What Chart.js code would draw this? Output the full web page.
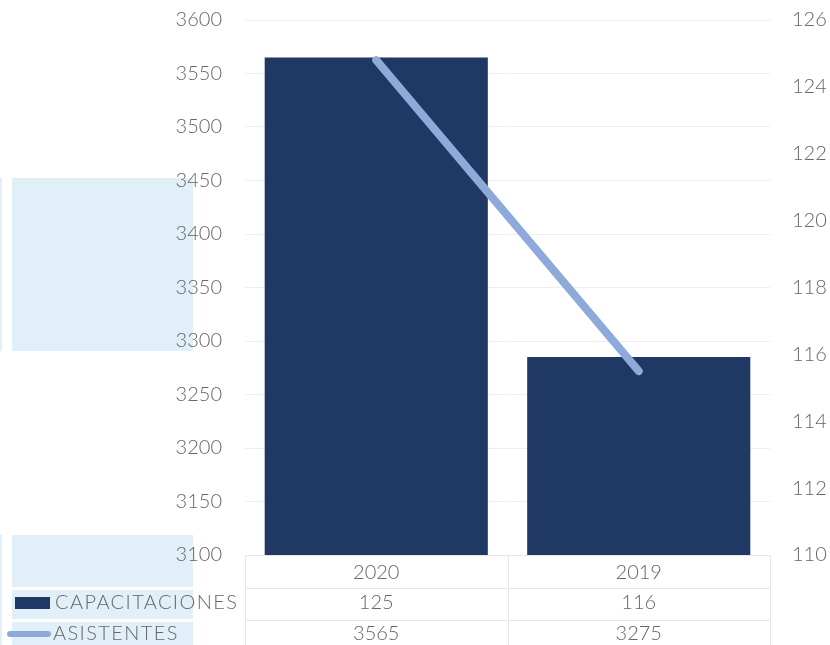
<!DOCTYPE html>
<html>
<head>
<meta charset="utf-8">
<script src="https://cdn.jsdelivr.net/npm/chart.js@4/dist/chart.umd.min.js"></script>
<style>
  html, body { margin: 0; padding: 0; background: #ffffff; overflow: hidden; }
  #wrap { position: relative; width: 830px; height: 645px; overflow: hidden; }
  .panel { position: absolute; background: #e1eff9; }
  canvas { position: absolute; left: 0; top: -15px; }
</style>
</head>
<body>
<div id="wrap">
  <div class="panel" style="left:0;top:178px;width:2px;height:173px;"></div>
  <div class="panel" style="left:12px;top:178px;width:181px;height:173px;"></div>
  <div class="panel" style="left:0;top:535px;width:2px;height:110px;"></div>
  <div class="panel" style="left:12px;top:535px;width:181px;height:52px;"></div>
  <div class="panel" style="left:12px;top:590px;width:181px;height:29px;"></div>
  <div class="panel" style="left:12px;top:622px;width:181px;height:23px;"></div>
  <canvas id="chart" width="830" height="660"></canvas>
</div>
<script>
// categorias y valores
const years = ["2020", "2019"];
const barValues = [3565, 3285];      // barras, eje izquierdo
const lineValues = [124.8, 115.5];   // linea, eje derecho
// valores que aparecen en la tabla de datos
const tableCapacitaciones = [125, 116];
const tableAsistentes = [3565, 3275];
const seriesNames = ["CAPACITACIONES", "ASISTENTES"];

const fontFamily = "'Lato', sans-serif";
const textColor = "#666666";
const gridColor = "#efefef";

// dibuja la tabla de datos bajo el eje de categorias
const dataTablePlugin = {
  id: "dataTable",
  afterDraw(chart) {
    const ctx = chart.ctx;
    const x = chart.scales.x;
    const area = chart.chartArea;
    const b = area.bottom;
    const rowY = [b + 18, b + 48, b + 79];
    const bottom = chart.height;
    ctx.save();
    ctx.strokeStyle = "#e6e6e6";
    ctx.lineWidth = 1;
    [b + 0.5, b + 33.5, b + 65.5].forEach((y) => {
      ctx.beginPath();
      ctx.moveTo(area.left, y);
      ctx.lineTo(area.right, y);
      ctx.stroke();
    });
    const mid = (x.getPixelForValue(0) + x.getPixelForValue(1)) / 2;
    [area.left, mid, area.right].forEach((vx) => {
      ctx.beginPath();
      ctx.moveTo(Math.round(vx) + 0.5, b);
      ctx.lineTo(Math.round(vx) + 0.5, bottom);
      ctx.stroke();
    });

    ctx.fillStyle = textColor;
    ctx.font = "300 20px " + fontFamily;
    ctx.textAlign = "center";
    ctx.textBaseline = "middle";
    years.forEach((yr, i) => {
      const cx = x.getPixelForValue(i);
      ctx.fillText(yr, cx, rowY[0]);
      ctx.fillText(String(tableCapacitaciones[i]), cx, rowY[1]);
      ctx.fillText(String(tableAsistentes[i]), cx, rowY[2]);
    });

    // claves de la leyenda
    ctx.fillStyle = "#203864";
    ctx.fillRect(15, rowY[1] - 6, 35, 12);
    ctx.strokeStyle = "#8eaadb";
    ctx.lineWidth = 6;
    ctx.lineCap = "round";
    ctx.beginPath();
    ctx.moveTo(10, rowY[2]);
    ctx.lineTo(48, rowY[2]);
    ctx.stroke();

    ctx.fillStyle = textColor;
    ctx.textAlign = "left";
    ctx.letterSpacing = "1.4px";
    ctx.fillText(seriesNames[0], 55, rowY[1]);
    ctx.fillText(seriesNames[1], 53, rowY[2]);
    ctx.restore();
  }
};

const ctx = document.getElementById("chart").getContext("2d");
new Chart(ctx, {
  data: {
    labels: years,
    datasets: [
      {
        type: "line",
        label: seriesNames[1],
        data: lineValues,
        yAxisID: "y1",
        borderColor: "#8eaadb",
        borderWidth: 8,
        borderCapStyle: "round",
        pointRadius: 0,
        tension: 0,
        order: 0
      },
      {
        type: "bar",
        label: seriesNames[0],
        data: barValues,
        yAxisID: "y",
        backgroundColor: "#203864",
        borderWidth: 0,
        categoryPercentage: 0.85,
        barPercentage: 1,
        order: 1
      }
    ]
  },
  plugins: [dataTablePlugin],
  options: {
    responsive: false,
    animation: false,
    layout: { padding: { top: 6, left: 0, right: 0, bottom: 0 } },
    plugins: {
      legend: { display: false },
      tooltip: { enabled: false }
    },
    scales: {
      x: {
        offset: true,
        grid: { display: false },
        border: { display: false },
        ticks: { display: false },
        afterFit(scale) { scale.height = 90; }
      },
      y: {
        position: "left",
        min: 3100,
        max: 3600,
        ticks: {
          stepSize: 50,
          color: textColor,
          padding: 23,
          font: { family: fontFamily, size: 20, weight: 300 },
          callback: (v) => String(v)
        },
        grid: { color: gridColor, drawTicks: false },
        border: { display: false },
        afterFit(scale) { scale.width = 245; }
      },
      y1: {
        position: "right",
        min: 110,
        max: 126,
        ticks: {
          stepSize: 2,
          color: textColor,
          padding: 22,
          font: { family: fontFamily, size: 20, weight: 300 },
          callback: (v) => String(v)
        },
        grid: { display: false, drawTicks: false },
        border: { display: false },
        afterFit(scale) { scale.width = 60; }
      }
    }
  }
});
</script>
</body>
</html>
